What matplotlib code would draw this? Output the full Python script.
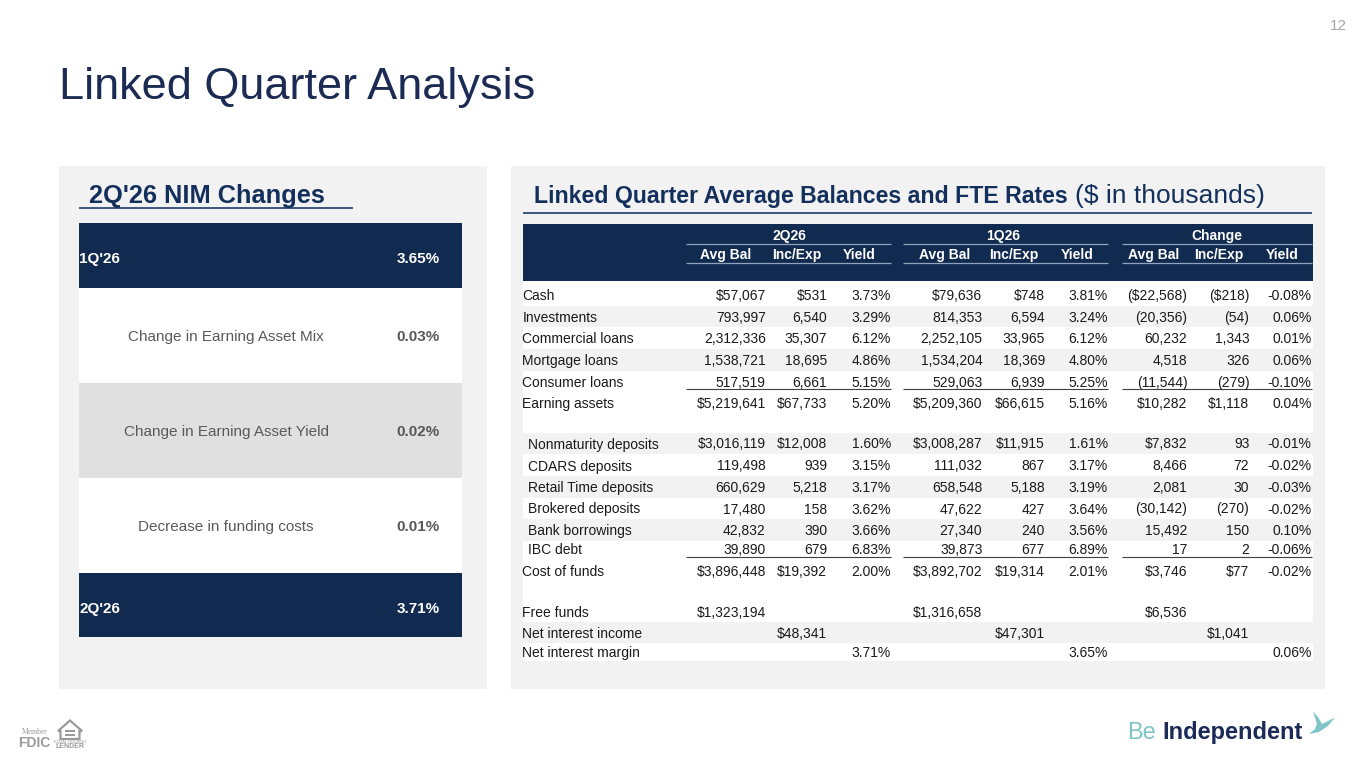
import matplotlib
matplotlib.use("Agg")
import matplotlib.pyplot as plt
from matplotlib.patches import Rectangle, Polygon

plt.rcParams['font.family'] = ['Liberation Sans', 'DejaVu Sans']

# ---------------- data ----------------
nim_labels = ["1Q'26", "Change in Earning Asset Mix", "Change in Earning Asset Yield",
              "Decrease in funding costs", "2Q'26"]
nim_values = [3.65, 0.03, 0.02, 0.01, 3.71]

group_headers = ["2Q26", "1Q26", "Change"]
col_headers = ["Avg Bal", "Inc/Exp", "Yield"]

row_labels = ["Cash", "Investments", "Commercial loans", "Mortgage loans", "Consumer loans",
              "Earning assets", "Nonmaturity deposits", "CDARS deposits", "Retail Time deposits",
              "Brokered deposits", "Bank borrowings", "IBC debt", "Cost of funds",
              "Free funds", "Net interest income", "Net interest margin"]

q2_bal = ["$57,067", "793,997", "2,312,336", "1,538,721", "517,519", "$5,219,641",
          "$3,016,119", "119,498", "660,629", "17,480", "42,832", "39,890", "$3,896,448",
          "$1,323,194", "", ""]
q2_inc = ["$531", "6,540", "35,307", "18,695", "6,661", "$67,733",
          "$12,008", "939", "5,218", "158", "390", "679", "$19,392",
          "", "$48,341", ""]
q2_yld = ["3.73%", "3.29%", "6.12%", "4.86%", "5.15%", "5.20%",
          "1.60%", "3.15%", "3.17%", "3.62%", "3.66%", "6.83%", "2.00%",
          "", "", "3.71%"]
q1_bal = ["$79,636", "814,353", "2,252,105", "1,534,204", "529,063", "$5,209,360",
          "$3,008,287", "111,032", "658,548", "47,622", "27,340", "39,873", "$3,892,702",
          "$1,316,658", "", ""]
q1_inc = ["$748", "6,594", "33,965", "18,369", "6,939", "$66,615",
          "$11,915", "867", "5,188", "427", "240", "677", "$19,314",
          "", "$47,301", ""]
q1_yld = ["3.81%", "3.24%", "6.12%", "4.80%", "5.25%", "5.16%",
          "1.61%", "3.17%", "3.19%", "3.64%", "3.56%", "6.89%", "2.01%",
          "", "", "3.65%"]
ch_bal = ["($22,568)", "(20,356)", "60,232", "4,518", "(11,544)", "$10,282",
          "$7,832", "8,466", "2,081", "(30,142)", "15,492", "17", "$3,746",
          "$6,536", "", ""]
ch_inc = ["($218)", "(54)", "1,343", "326", "(279)", "$1,118",
          "93", "72", "30", "(270)", "150", "2", "$77",
          "", "$1,041", ""]
ch_yld = ["-0.08%", "0.06%", "0.01%", "0.06%", "-0.10%", "0.04%",
          "-0.01%", "-0.02%", "-0.03%", "-0.02%", "0.10%", "-0.06%", "-0.02%",
          "", "", "0.06%"]

# ---------------- layout / style ----------------
NAVY = '#112a50'
TITLE = '#1c2b53'
PTITLE = '#13305c'
PANEL = '#f2f2f2'
GRAYTXT = '#595959'
BODY = '#1a1a1a'

fig = plt.figure(figsize=(13.65, 7.68), dpi=100)
ax = fig.add_axes([0, 0, 1, 1])
ax.set_xlim(0, 1365)
ax.set_ylim(768, 0)
ax.axis('off')

def rect(x0, y0, x1, y1, color, z=1):
    ax.add_patch(Rectangle((x0, y0), x1 - x0, y1 - y0, facecolor=color, edgecolor='none', zorder=z))

def hline(x0, x1, y, color, lw):
    ax.plot([x0, x1], [y, y], color=color, lw=lw, solid_capstyle='butt', zorder=5)

# page number and title
ax.text(1347, 30, "12", ha='right', va='baseline', fontsize=11, color='#a6a6a6')
ax.text(59, 98.5, "Linked Quarter Analysis", ha='left', va='baseline', fontsize=32.5, color=TITLE)

# ---------------- left panel ----------------
rect(59, 166, 486.5, 689, PANEL, 0)
ax.text(89, 202.7, "2Q'26 NIM Changes", ha='left', va='baseline', fontsize=18.3,
        fontweight='bold', color=PTITLE, zorder=6)
hline(79, 353, 207.7, '#2f4a73', 1.3)

nim_bands = [(223, 288), (288, 383), (383, 478), (478, 573), (573, 637)]
nim_fill = [NAVY, 'white', '#e0e0e0', 'white', NAVY]
for i, (lab, val) in enumerate(zip(nim_labels, nim_values)):
    y0, y1 = nim_bands[i]
    rect(79, y0, 462, y1, nim_fill[i], 1)
    yc = (y0 + y1) / 2 + 5.5 if i not in (0, 4) else y0 + 40
    if nim_fill[i] == NAVY:
        ax.text(79, yc, lab, ha='left', va='baseline', fontsize=11, fontweight='bold',
                color='white', zorder=6)
        ax.text(440, yc, f"{val:.2f}%", ha='right', va='baseline', fontsize=11,
                fontweight='bold', color='white', zorder=6)
    else:
        ax.text(226, yc, lab, ha='center', va='baseline', fontsize=11, color=GRAYTXT, zorder=6)
        ax.text(440, yc, f"{val:.2f}%", ha='right', va='baseline', fontsize=11,
                fontweight='bold', color=GRAYTXT, zorder=6)

# ---------------- right panel ----------------
rect(511, 166, 1325, 689, PANEL, 0)
t1 = ax.text(534.5, 202.7, "Linked Quarter Average Balances and FTE Rates", ha='left',
             va='baseline', fontsize=16.7, fontweight='bold', color=PTITLE, zorder=6)
fig.canvas.draw()
bb = t1.get_window_extent()
x_end = bb.x1
ax.text(x_end + 7, 202.7, "($ in thousands)", ha='left', va='baseline', fontsize=19,
        color=PTITLE, zorder=6)
hline(522.5, 1312, 212.7, '#2f4a73', 1.3)

TX0, TX1 = 522.7, 1313
rect(TX0, 224, TX1, 281, NAVY, 1)
rect(TX0, 281, TX1, 661, 'white', 1)

group_spans = [(686, 891), (903, 1108), (1122, 1312)]
group_centers = [789, 1003, 1217]
hdr_centers = [[726, 797, 859.5], [944.5, 1014, 1077], [1154, 1218.7, 1282]]
col_right = [[765.7, 827.3, 891], [982.3, 1045, 1107.7], [1187.3, 1249.3, 1311.7]]
for g in range(3):
    ax.text(group_centers[g], 240, group_headers[g], ha='center', va='baseline', fontsize=10,
            fontweight='bold', color='white', zorder=6)
    hline(group_spans[g][0], group_spans[g][1], 243.5, '#8fa3bd', 0.9)
    hline(group_spans[g][0], group_spans[g][1], 262.7, '#8fa3bd', 0.9)
    for c in range(3):
        ax.text(hdr_centers[g][c], 259.3, col_headers[c], ha='center', va='baseline',
                fontsize=10, fontweight='bold', color='white', zorder=6)

row_y = [295, 316.7, 338.3, 360, 381.7, 402.7, 443.5, 465.5, 487, 508.5, 530, 549.5,
         570.8, 611.7, 632.5, 652.3]
row_shade = [0, 1, 0, 1, 0, 0, 1, 0, 1, 0, 1, 0, 0, 0, 1, 0]
row_indent = [0, 0, 0, 0, 0, 0, 1, 1, 1, 1, 1, 1, 0, 0, 0, 0]
columns = [[q2_bal, q2_inc, q2_yld], [q1_bal, q1_inc, q1_yld], [ch_bal, ch_inc, ch_yld]]

for r, lab in enumerate(row_labels):
    yc = row_y[r]
    if row_shade[r]:
        rect(TX0, yc - 11, TX1, yc + 10.5, PANEL, 2)
    base = yc + 5
    ax.text(522.5 + 5 * row_indent[r], base, lab, ha='left', va='baseline', fontsize=10,
            color=BODY, zorder=6)
    for g in range(3):
        for c in range(3):
            s = columns[g][c][r]
            if s:
                ax.text(col_right[g][c], base, s, ha='right', va='baseline', fontsize=10,
                        color=BODY, zorder=6)

for yl in (389.3, 557.3):
    for g in range(3):
        hline(group_spans[g][0], group_spans[g][1], yl, '#404040', 0.8)

# ---------------- footer logos ----------------
ax.text(34.5, 734.5, "Member", ha='center', va='baseline', fontsize=5.5, color='#9a9a9a',
        family=['Liberation Serif', 'DejaVu Serif'])
ax.text(34.5, 747, "FDIC", ha='center', va='baseline', fontsize=10, fontweight='bold',
        color='#9a9a9a')
ax.add_patch(Polygon([(58, 731), (70, 720.5), (82, 731), (79.5, 731), (79.5, 739),
                      (60.5, 739), (60.5, 731)], closed=True, facecolor='none',
                     edgecolor='#9a9a9a', lw=1.6, zorder=6))
rect(65, 730, 75, 732, '#9a9a9a', 7)
rect(65, 734, 75, 736, '#9a9a9a', 7)
ax.text(70.5, 743.3, "EQUAL HOUSING", ha='center', va='baseline', fontsize=2.8, color='#9a9a9a')
ax.text(70.5, 748.5, "LENDER", ha='center', va='baseline', fontsize=5, fontweight='bold',
        color='#9a9a9a')

ax.text(1127, 739, "Be", ha='left', va='baseline', fontsize=17, color='#7fc4c6')
ax.text(1162, 739, "Independent", ha='left', va='baseline', fontsize=17, fontweight='bold',
        color='#1b2a57')
ax.add_patch(Polygon([(1313, 711.5), (1318, 717), (1322, 724), (1335, 717.5), (1328, 726),
                      (1319, 732), (1309, 734), (1315, 729), (1317, 724)], closed=True,
                     facecolor='#7fc4c6', edgecolor='none', zorder=6))

fig.savefig("out.png", dpi=100)
